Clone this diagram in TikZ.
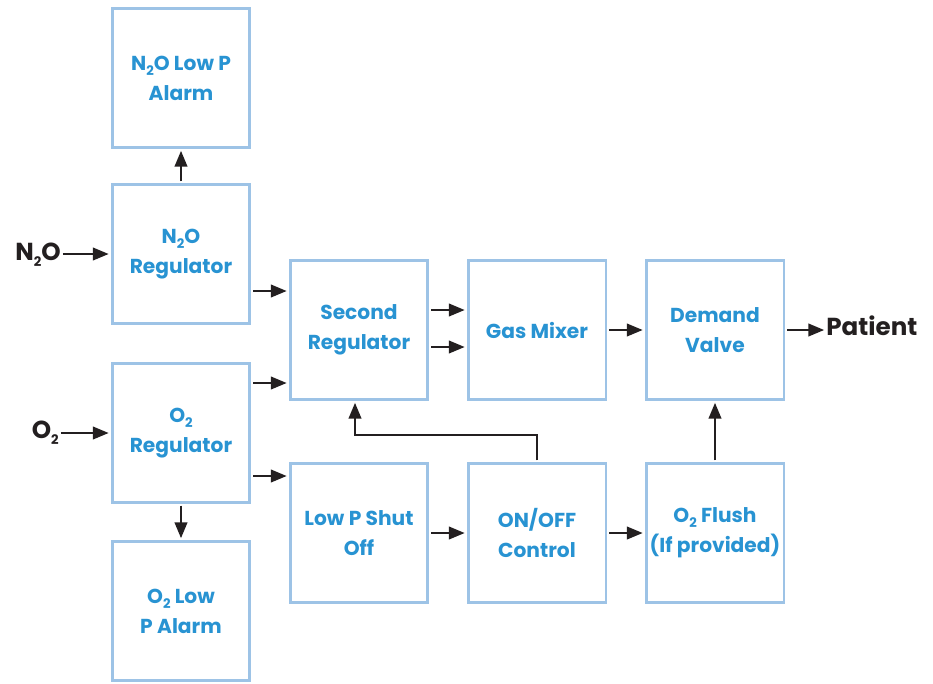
\documentclass[tikz,border=0pt]{standalone}
\usepackage{fontspec}
\setmainfont{Poppins}
\usetikzlibrary{arrows.meta}
\definecolor{boxblue}{HTML}{9DC3E6}
\definecolor{txtblue}{HTML}{2893D2}
\definecolor{arrblack}{HTML}{231F20}
\newcommand{\lowtwo}{\raisebox{-0.45ex}{\fontsize{7.5}{8}\selectfont 2}}
\tikzset{
  blk/.style={draw=boxblue, line width=1.7pt, minimum width=2.76cm, minimum height=2.78cm,
    align=center, text=txtblue, inner sep=0pt, font=\bfseries\fontsize{11.5}{17}\selectfont},
  flow/.style={draw=arrblack, line width=1.5pt, -{Triangle[length=0.32cm,width=0.25cm]},
    shorten <=1pt, shorten >=1pt},
  gas/.style={text=arrblack, font=\bfseries\fontsize{14}{16}\selectfont, inner sep=0pt}
}

\begin{document}
\begin{tikzpicture}[x=0.02cm, y=-0.02cm]
\useasboundingbox (0,0) rectangle (933,683);
% left column
\node[blk] (n2oalarm) at (181,78) {N\lowtwo O Low P\\Alarm};
\node[blk] (n2oreg) at (181,254) {N\lowtwo O\\Regulator};
\node[blk] (o2reg) at (181,433) {O\lowtwo\\Regulator};
\node[blk] (o2alarm) at (181,611) {O\lowtwo{} Low\\P Alarm};
% upper row
\node[blk] (secreg) at (359,330) {Second\\Regulator};
\node[blk] (mixer) at (537,330) {Gas Mixer};
\node[blk] (demand) at (715,330) {Demand\\Valve};
% lower row
\node[blk] (shutoff) at (359,533) {Low P Shut\\Off};
\node[blk] (onoff) at (537,533) {ON/OFF\\Control};
\node[blk] (flush) at (715,533) {O\lowtwo{} Flush\\(If provided)};
% gases in and out
\node[gas, anchor=mid east] (n2oin) at (61,256) {N\lowtwo O};
\node[gas, anchor=mid east] (o2in) at (59,434) {O\lowtwo};
\node[gas, anchor=mid west] (patient) at (826,331) {Patient};
\coordinate (ret) at (355,435);

\draw[flow] (n2oin.east |- n2oreg) -- (n2oreg.west);
\draw[flow] (o2in.east |- o2reg) -- (o2reg.west);
\draw[flow] (n2oreg) -- (n2oalarm);
\draw[flow] (o2reg) -- (o2alarm);
\draw[flow] (n2oreg.east |- 0,291) -- (secreg.west |- 0,291);
\draw[flow] (o2reg.east |- 0,383) -- (secreg.west |- 0,383);
\draw[flow] (o2reg.east |- 0,476) -- (shutoff.west |- 0,476);
\foreach \y in {310,347}
  \draw[flow] (secreg.east |- 0,\y) -- (mixer.west |- 0,\y);
\draw[flow] (mixer) -- (demand);
\draw[flow] (demand) -- (patient.west |- demand);
\draw[flow] (shutoff) -- (onoff);
\draw[flow] (onoff) -- (flush);
\draw[flow] (flush) -- (demand);
\draw[flow] (onoff.north) |- (ret) -- (secreg.south -| ret); % back to second regulator
\end{tikzpicture}
\end{document}
